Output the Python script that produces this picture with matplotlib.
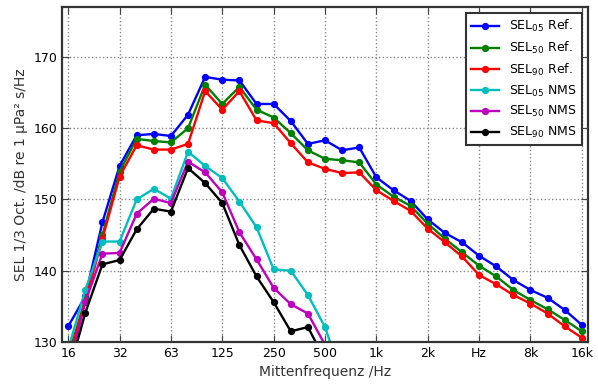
import numpy as np
import matplotlib
matplotlib.use("Agg")
import matplotlib.pyplot as plt

# 1/3-octave bands 16 Hz .. 16 kHz
bands = ["16", "20", "25", "31.5", "40", "50", "63", "80", "100", "125", "160",
         "200", "250", "315", "400", "500", "630", "800", "1k", "1.25k", "1.6k",
         "2k", "2.5k", "3.15k", "4k", "5k", "6.3k", "8k", "10k", "12.5k", "16k"]
tick_labels = ["16", "32", "63", "125", "250", "500", "1k", "2k", "Hz", "8k", "16k"]

sel05_ref = [132.2, 136.4, 146.8, 154.7, 159.0, 159.2, 158.9, 161.9, 167.2, 166.8, 166.7,
             163.4, 163.4, 161.0, 157.8, 158.3, 156.9, 157.3, 153.1, 151.3, 149.8,
             147.2, 145.3, 144.0, 142.1, 140.6, 138.7, 137.3, 136.2, 134.5, 132.4]
sel50_ref = [128.0, 136.0, 145.0, 153.9, 158.5, 158.2, 158.0, 160.0, 166.1, 163.4, 165.8,
             162.6, 161.5, 159.3, 156.9, 155.7, 155.5, 155.2, 152.1, 150.4, 149.1,
             146.6, 144.5, 142.6, 140.7, 139.2, 137.3, 135.9, 134.6, 133.1, 131.5]
sel90_ref = [127.6, 135.7, 144.5, 153.2, 157.6, 157.0, 157.0, 157.8, 165.2, 162.6, 165.2,
             161.1, 160.7, 157.9, 155.2, 154.3, 153.7, 153.8, 151.3, 149.8, 148.4,
             145.9, 144.0, 142.0, 139.4, 138.1, 136.6, 135.4, 134.0, 132.2, 130.6]
sel05_nms = [129.0, 137.3, 144.1, 144.1, 150.0, 151.5, 150.1, 156.7, 154.7, 153.0, 149.7,
             146.1, 140.2, 140.0, 136.6, 132.1, 125.0]
sel50_nms = [126.0, 135.6, 142.4, 142.5, 148.0, 150.1, 149.5, 155.3, 153.8, 151.0, 145.4,
             141.6, 137.6, 135.3, 134.0, 129.6]
sel90_nms = [125.4, 134.1, 140.9, 141.5, 145.8, 148.7, 148.3, 154.4, 152.3, 149.5, 143.6,
             139.2, 135.6, 131.5, 132.1, 127.5]

series = [
    (sel05_ref, "b", "SEL$_{05}$ Ref."),
    (sel50_ref, "g", "SEL$_{50}$ Ref."),
    (sel90_ref, "r", "SEL$_{90}$ Ref."),
    (sel05_nms, "c", "SEL$_{05}$ NMS"),
    (sel50_nms, "m", "SEL$_{50}$ NMS"),
    (sel90_nms, "k", "SEL$_{90}$ NMS"),
]

plt.rcParams["font.family"] = ["DejaVu Sans"]
fig = plt.figure(figsize=(5.98, 3.9), dpi=100)
ax = fig.add_axes([0.104, 0.123, 0.879, 0.859])

for vals, col, lab in series:
    x = np.arange(len(vals))
    ax.plot(x, vals, color=col, marker="o", markersize=4.2, linewidth=1.7, label=lab)

ax.set_xlim(-0.35, 30.35)
ax.set_ylim(130, 177)
ax.set_xticks(np.arange(0, 31, 3))
ax.set_xticklabels(tick_labels, fontsize=9)
ax.set_yticks([130, 140, 150, 160, 170])
ax.tick_params(axis="y", labelsize=9)
ax.tick_params(direction="in", top=True, right=True, length=5, color="#444444")
ax.grid(True, linestyle=":", color="#888888", linewidth=1)
for s in ax.spines.values():
    s.set_linewidth(1.6)
    s.set_color("#333333")

ax.set_xlabel("Mittenfrequenz /Hz", fontsize=10, color="#333333")
ax.set_ylabel("SEL 1/3 Oct. /dB re 1 µPa² s/Hz", fontsize=10, color="#333333")

leg = ax.legend(loc="upper right", fontsize=9, fancybox=False, framealpha=1,
                borderaxespad=0.5, handlelength=2.2, labelspacing=0.45)
leg.get_frame().set_edgecolor("#333333")
leg.get_frame().set_linewidth(1.5)

fig.savefig("out.png", dpi=100)
